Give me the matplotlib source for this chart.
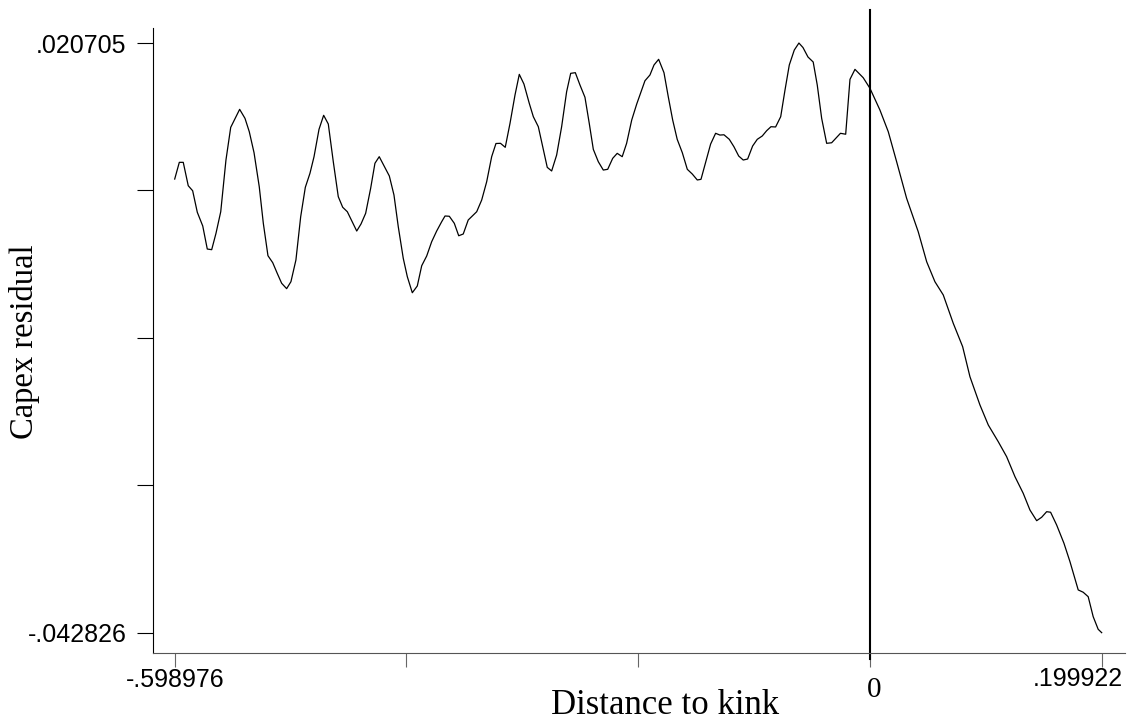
import numpy as np
import matplotlib
matplotlib.use('Agg')
import matplotlib.pyplot as plt

# smoothed capex residual against distance to the kink
distance = [
    -0.598976, -0.5950, -0.5916, -0.5873, -0.5835, -0.5795, -0.5748, -0.5709, -0.5671, -0.5634,
    -0.5593, -0.5548, -0.5507, -0.5430, -0.5384, -0.5347, -0.5306, -0.5261, -0.5226, -0.5186,
    -0.5145, -0.5106, -0.5068, -0.5025, -0.4988, -0.4945, -0.4904, -0.4864, -0.4824, -0.4789,
    -0.4746, -0.4706, -0.4666, -0.4623, -0.4580, -0.4542, -0.4502, -0.4421, -0.4384, -0.4344,
    -0.4301, -0.4264, -0.4227, -0.4186, -0.4140, -0.4100, -0.4063, -0.4020, -0.3985, -0.3942,
    -0.3899, -0.3861, -0.3818, -0.3775, -0.3732, -0.3689, -0.3660, -0.3623, -0.3580, -0.3542,
    -0.3503, -0.3460, -0.3387, -0.3344, -0.3301, -0.3258, -0.3221, -0.3182, -0.3141, -0.3100,
    -0.3057, -0.3020, -0.2980, -0.2934, -0.2899, -0.2856, -0.2818, -0.2779, -0.2741, -0.2698,
    -0.2655, -0.2612, -0.2577, -0.2537, -0.2497, -0.2454, -0.2417, -0.2382, -0.2339, -0.2296,
    -0.2258, -0.2215, -0.2176, -0.2133, -0.2095, -0.2051, -0.2008, -0.1937, -0.1894, -0.1859,
    -0.1819, -0.1773, -0.1736, -0.1698, -0.1659, -0.1615, -0.1572, -0.1529, -0.1486, -0.1454,
    -0.1411, -0.1371, -0.1328, -0.1291, -0.1256, -0.1210, -0.1170, -0.1129, -0.1090, -0.1052,
    -0.1009, -0.0969, -0.0926, -0.0888, -0.0851, -0.0811, -0.0767, -0.0730, -0.0693, -0.0650,
    -0.0610, -0.0575, -0.0532, -0.0487, -0.0452, -0.0414, -0.0371, -0.0328, -0.0252, -0.0207,
    -0.0170, -0.0127, -0.0056, 0.0002, 0.0088, 0.0160, 0.0232, 0.0318, 0.0418, 0.0491,
    0.0562, 0.0634, 0.0720, 0.0801, 0.0864, 0.0950, 0.1022, 0.1108, 0.1180, 0.1252,
    0.1323, 0.1381, 0.1439, 0.1482, 0.1525, 0.1559, 0.1611, 0.1674, 0.1726, 0.1797,
    0.1840, 0.1883, 0.1926, 0.1969, 0.199922,
]
capex_resid = [
    0.00605, 0.00785, 0.00785, 0.00533, 0.00479, 0.00247, 0.00099, -0.00149, -0.00156, 0.00020,
    0.00253, 0.00810, 0.01162, 0.01356, 0.01259, 0.01115, 0.00889, 0.00522, 0.00128, -0.00221,
    -0.00296, -0.00411, -0.00518, -0.00576, -0.00501, -0.00267, 0.00199, 0.00516, 0.00667, 0.00846,
    0.01141, 0.01292, 0.01198, 0.00792, 0.00415, 0.00301, 0.00253, 0.00045, 0.00121, 0.00236,
    0.00505, 0.00775, 0.00846, 0.00749, 0.00638, 0.00433, 0.00092, -0.00249, -0.00447, -0.00620,
    -0.00547, -0.00329, -0.00224, -0.00070, 0.00045, 0.00145, 0.00207, 0.00204, 0.00128, -0.00006,
    0.00013, 0.00164, 0.00253, 0.00379, 0.00576, 0.00846, 0.00988, 0.00990, 0.00947, 0.01205,
    0.01510, 0.01733, 0.01629, 0.01421, 0.01277, 0.01169, 0.00953, 0.00731, 0.00692, 0.00864,
    0.01169, 0.01546, 0.01744, 0.01751, 0.01618, 0.01486, 0.01205, 0.00925, 0.00792, 0.00702,
    0.00710, 0.00828, 0.00882, 0.00846, 0.00990, 0.01241, 0.01413, 0.01664, 0.01726, 0.01834,
    0.01895, 0.01751, 0.01492, 0.01241, 0.01033, 0.00889, 0.00710, 0.00659, 0.00595, 0.00602,
    0.00799, 0.00982, 0.01098, 0.01079, 0.01082, 0.01033, 0.00953, 0.00853, 0.00810, 0.00821,
    0.00961, 0.01033, 0.01069, 0.01126, 0.01169, 0.01166, 0.01277, 0.01564, 0.01834, 0.01995,
    0.020705, 0.02022, 0.01920, 0.01866, 0.01618, 0.01259, 0.00990, 0.00996, 0.01098, 0.01088,
    0.01679, 0.01787, 0.01697, 0.01583, 0.01349, 0.01115, 0.00792, 0.00398, 0.00038, -0.00286,
    -0.00501, -0.00644, -0.00949, -0.01201, -0.01525, -0.01829, -0.02045, -0.02225, -0.02386, -0.02602,
    -0.02781, -0.02961, -0.03076, -0.03039, -0.02979, -0.02985, -0.03122, -0.03319, -0.03518, -0.03822,
    -0.03847, -0.03895, -0.04110, -0.04246, -0.042826,
]

x_lo, x_hi = -0.598976, 0.199922
y_lo, y_hi = -0.042826, 0.020705
x_first_label = '-.598976'
x_last_label = '.199922'
y_tick_labels = ['-.042826', '', '', '', '.020705']
kink = 0

sans = 'Liberation Sans'
serif = 'Liberation Serif'

fig = plt.figure(figsize=(11.31, 7.26), dpi=100)
ax = fig.add_axes([153 / 1131, 73 / 726, 972 / 1131, 625 / 726])

ax.plot(distance, capex_resid, color='black', lw=0.9)
# vertical line at the kink, a bit taller than the plot region
ax.axvline(kink, ymin=-0.0096, ymax=1.0288, color='black', lw=1.5, clip_on=False)

ax.set_xlim(x_lo - 0.0187, x_hi + 0.0201)
ax.set_ylim(y_lo - 0.00219, y_hi + 0.00162)

for side in ['top', 'right']:
    ax.spines[side].set_visible(False)
ax.spines['left'].set_color('black')
ax.spines['left'].set_linewidth(0.8)
ax.spines['bottom'].set_color('#555555')
ax.spines['bottom'].set_linewidth(0.8)

# ticks evenly spaced between min and max, as in the original
ax.set_xticks(np.linspace(x_lo, x_hi, 5))
ax.set_xticklabels([x_first_label, '', '', '', ''], fontsize=18, family=sans)
ax.set_yticks(np.linspace(y_lo, y_hi, 5))
ax.set_yticklabels(y_tick_labels, fontsize=18, family=sans)
ax.tick_params(axis='x', length=10, width=0.8, color='#666666', pad=0.5)
ax.tick_params(axis='y', length=11.3, width=0.8, color='black', pad=7.6)

# last x label is pushed left so it stays inside the figure
ax.annotate(x_last_label, xy=(x_hi, 0), xycoords=('data', 'axes fraction'),
            xytext=(-17.1, -10.3), textcoords='offset points',
            ha='center', va='top', fontsize=18, family=sans)
ax.annotate('0', xy=(kink, 0), xycoords=('data', 'axes fraction'),
            xytext=(3, -26.6), textcoords='offset points',
            ha='center', va='center', fontsize=21, family=serif)

fig.text(665 / 1131, 1 - 706 / 726, 'Distance to kink', ha='center', va='center',
         fontsize=25, family=serif)
fig.text(25 / 1131, 1 - 342 / 726, 'Capex residual', rotation=90, ha='center', va='center',
         fontsize=23.5, family=serif)

fig.savefig('out.png', dpi=100)
